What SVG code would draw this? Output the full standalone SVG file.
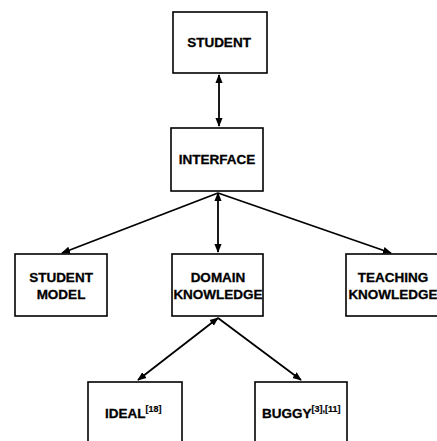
<svg xmlns="http://www.w3.org/2000/svg" width="437" height="441" viewBox="0 0 437 441">
<defs>
<marker id="ah" viewBox="0 0 10 10" refX="9" refY="5" markerWidth="5" markerHeight="5" orient="auto-start-reverse" markerUnits="strokeWidth">
<path d="M0,1 L10,5 L0,9 Z" fill="#000"/>
</marker>
<style>
.box{fill:#fff;stroke:#000;stroke-width:1.6}
.t{font-family:"Liberation Sans",Arial,sans-serif;font-weight:bold;font-size:13.5px;fill:#000;stroke:#000;stroke-width:0.3;text-anchor:middle}
.s{font-size:9px;stroke-width:0.2}
.c line{stroke:#000;stroke-width:1.8;fill:none}
</style>
</defs>
<rect width="437" height="441" fill="#fff"/>
<g class="c" id="connectors">
<line x1="219" y1="75" x2="219" y2="126" marker-start="url(#ah)" marker-end="url(#ah)"/>
<line x1="218" y1="193" x2="218" y2="252" marker-start="url(#ah)" marker-end="url(#ah)"/>
<line x1="218" y1="193" x2="62" y2="253" marker-end="url(#ah)"/>
<line x1="218" y1="193" x2="391" y2="253" marker-end="url(#ah)"/>
<line x1="218" y1="318" x2="138" y2="380" marker-start="url(#ah)" marker-end="url(#ah)"/>
<line x1="218" y1="318" x2="301" y2="380" marker-end="url(#ah)"/>
</g>
<g id="student">
<rect class="box" x="173" y="12" width="94" height="61"/>
<text class="t" x="219" y="47">STUDENT</text>
</g>
<g id="interface">
<rect class="box" x="171" y="128" width="92" height="63"/>
<text class="t" x="217" y="164">INTERFACE</text>
</g>
<g id="student-model">
<rect class="box" x="15" y="254" width="92" height="62"/>
<text class="t" x="61" y="282">STUDENT</text>
<text class="t" x="61" y="299">MODEL</text>
</g>
<g id="domain-knowledge">
<rect class="box" x="172" y="254" width="91" height="62"/>
<text class="t" x="218" y="282">DOMAIN</text>
<text class="t" x="218" y="299">KNOWLEDGE</text>
</g>
<g id="teaching-knowledge">
<rect class="box" x="346" y="254" width="93" height="62"/>
<text class="t" x="393" y="282">TEACHING</text>
<text class="t" x="393" y="299">KNOWLEDGE</text>
</g>
<g id="ideal">
<rect class="box" x="88" y="382" width="94" height="63"/>
<text class="t" x="105" y="418" style="text-anchor:start">IDEAL<tspan class="s" dy="-6">[18]</tspan></text>
</g>
<g id="buggy">
<rect class="box" x="255" y="382" width="92" height="63"/>
<text class="t" x="262" y="418" style="text-anchor:start">BUGGY<tspan class="s" dy="-6">[3],[11]</tspan></text>
</g>
</svg>
